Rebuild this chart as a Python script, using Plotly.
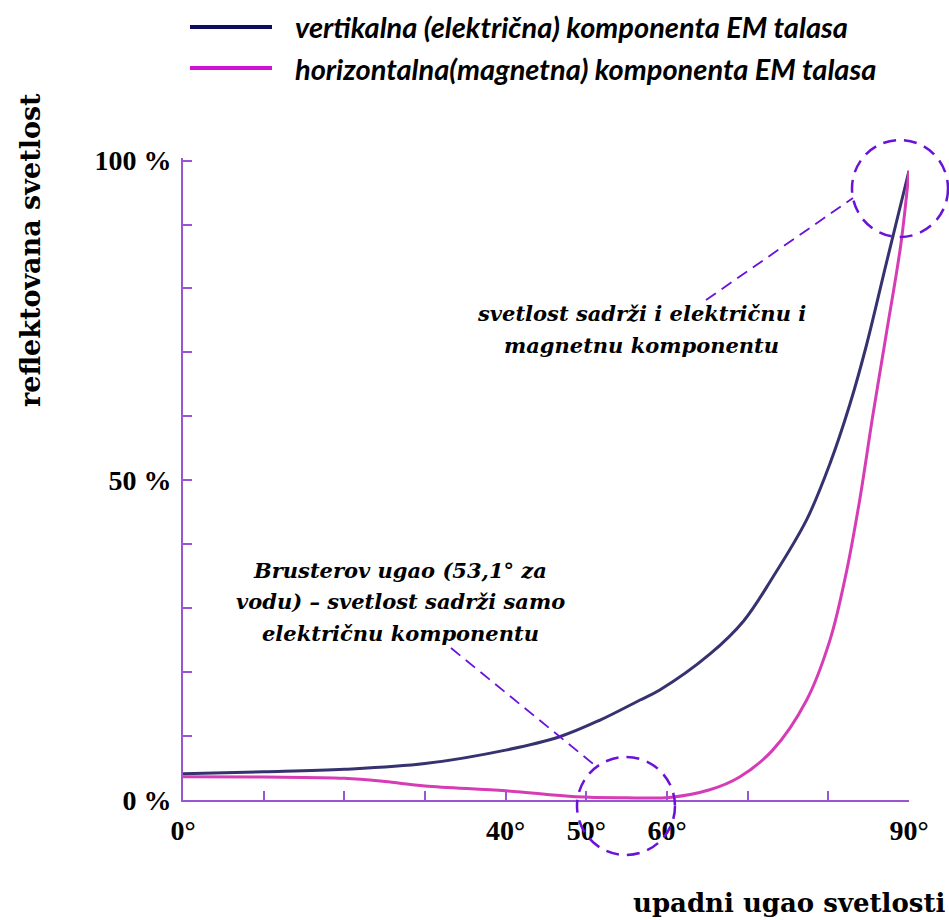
import plotly.graph_objects as go

# ---- data ----
angle_vertical = [0, 10, 20, 30, 40, 46.7, 51.7, 56.6, 59.1, 65.3, 69.5, 73.1, 77.3, 80.2, 82.7, 84.7, 87.2, 90]
refl_vertical = [4.1, 4.4, 4.8, 5.7, 7.8, 9.9, 12.5, 15.6, 17.2, 22.8, 28.0, 34.8, 43.8, 52.6, 62.0, 71.0, 84.0, 98.4]

angle_horizontal = [0, 10, 20, 25, 30, 40, 48.7, 55, 60.3, 65.3, 69, 73.1, 77.3, 80.2, 82.2, 83.9, 85.5, 87.2, 89, 90]
refl_horizontal = [3.65, 3.6, 3.4, 2.9, 2.2, 1.45, 0.5, 0.35, 0.4, 1.6, 3.6, 7.8, 15.6, 25, 35.4, 47, 60, 73, 87, 98.4]

x_tickvals = [0, 10, 20, 30, 40, 50, 60, 70, 80, 90]
x_ticktext = ["0°", "", "", "", "40°", "50°", "60°", "", "", "90°"]
y_tickvals = [0, 10, 20, 30, 40, 50, 60, 70, 80, 90, 100]
y_ticktext = ["0 %", "", "", "", "", "50 %", "", "", "", "", "100 %"]

name_vertical = "vertikalna (električna) komponenta EM talasa"
name_horizontal = "horizontalna(magnetna) komponenta EM talasa"

note_top = ["svetlost sadrži i električnu i", "magnetnu komponentu"]
note_brewster = ["Brusterov ugao (53,1° za", "vodu) – svetlost sadrži samo", "električnu komponentu"]

NAVY = "#36326f"
PINK = "#d63cb6"
AXIS = "#9a55d2"
VIOLET = "#6a12d8"
TICKSERIF = "Liberation Serif, serif"
SERIF = "DejaVu Serif, serif"
SANS = "Lato, sans-serif"

W, H = 949, 920
L, R, T, B = 183, 40, 158, 120
PW, PH = W - L - R, H - T - B


def px(x):
    return (x - L) / PW


def py(y):
    return (H - B - y) / PH


fig = go.Figure()
fig.add_trace(go.Scatter(x=angle_vertical, y=refl_vertical, mode="lines", name=name_vertical,
                         line=dict(color=NAVY, width=3, shape="spline", smoothing=1.0), showlegend=False))
fig.add_trace(go.Scatter(x=angle_horizontal, y=refl_horizontal, mode="lines", name=name_horizontal,
                         line=dict(color=PINK, width=3, shape="spline", smoothing=1.0), showlegend=False))

shapes = []
# manual legend lines
shapes.append(dict(type="line", xref="paper", yref="paper", x0=px(190), x1=px(272), y0=py(27), y1=py(27),
                   line=dict(color="#0c0c62", width=4)))
shapes.append(dict(type="line", xref="paper", yref="paper", x0=px(190), x1=px(272), y0=py(68), y1=py(68),
                   line=dict(color="#d012d0", width=4)))
# circles
shapes.append(dict(type="circle", xref="paper", yref="paper", x0=px(852), x1=px(948), y0=py(237), y1=py(140),
                   line=dict(color=VIOLET, width=2.5, dash="13px,8px")))
shapes.append(dict(type="circle", xref="paper", yref="paper", x0=px(577), x1=px(675), y0=py(855), y1=py(757),
                   line=dict(color=VIOLET, width=2.5, dash="13px,8px")))
# dashed pointer lines
shapes.append(dict(type="line", xref="paper", yref="paper", x0=px(706), y0=py(300), x1=px(853), y1=py(198),
                   line=dict(color=VIOLET, width=1.8, dash="12px,7px")))
shapes.append(dict(type="line", xref="paper", yref="paper", x0=px(451), y0=py(648), x1=px(597), y1=py(767),
                   line=dict(color=VIOLET, width=1.8, dash="12px,7px")))

annotations = [
    dict(xref="paper", yref="paper", x=px(293), y=py(27), xanchor="left", yanchor="middle",
         text="<b><i>" + name_vertical + "</i></b>", showarrow=False,
         font=dict(family=SANS, size=29, color="black")),
    dict(xref="paper", yref="paper", x=px(293), y=py(68), xanchor="left", yanchor="middle",
         text="<b><i>" + name_horizontal + "</i></b>", showarrow=False,
         font=dict(family=SANS, size=29, color="black")),
    dict(xref="paper", yref="paper", x=px(30), y=py(250), xanchor="center", yanchor="middle", textangle=-90,
         text="<b>reflektovana svetlost</b>", showarrow=False,
         font=dict(family=SERIF, size=27, color="black")),
    dict(xref="paper", yref="paper", x=px(789), y=py(903), xanchor="center", yanchor="middle",
         text="<b>upadni ugao svetlosti</b>", showarrow=False,
         font=dict(family=SERIF, size=26, color="black")),
]
for line_text, ypix in zip(note_top, [313, 345]):
    annotations.append(dict(xref="paper", yref="paper", x=px(641), y=py(ypix), xanchor="center",
                            yanchor="middle", text="<b><i>" + line_text + "</i></b>", showarrow=False,
                            font=dict(family=SERIF, size=21, color="black")))
for line_text, ypix in zip(note_brewster, [570, 601, 633]):
    annotations.append(dict(xref="paper", yref="paper", x=px(400), y=py(ypix), xanchor="center",
                            yanchor="middle", text="<b><i>" + line_text + "</i></b>", showarrow=False,
                            font=dict(family=SERIF, size=21, color="black")))

fig.update_layout(
    width=W, height=H,
    margin=dict(l=L, r=R, t=T, b=B, pad=0),
    paper_bgcolor="white", plot_bgcolor="white",
    shapes=shapes, annotations=annotations,
    xaxis=dict(range=[0, 90], tickmode="array", tickvals=x_tickvals, ticktext=x_ticktext,
               ticks="inside", ticklen=9, tickwidth=2, tickcolor=AXIS,
               showline=True, linecolor=AXIS, linewidth=2, showgrid=False, zeroline=False,
               tickfont=dict(family=TICKSERIF, size=28, color="black", weight="bold"), ticklabelstandoff=4),
    yaxis=dict(range=[0, 100.4], tickmode="array", tickvals=y_tickvals, ticktext=y_ticktext,
               ticks="inside", ticklen=9, tickwidth=2, tickcolor=AXIS,
               showline=True, linecolor=AXIS, linewidth=2, showgrid=False, zeroline=False,
               tickfont=dict(family=TICKSERIF, size=28, color="black", weight="bold"), ticklabelstandoff=4),
)

fig.write_html("out.html", config={"displayModeBar": False},
               post_script="document.body.style.margin='0';document.body.style.padding='0';")
